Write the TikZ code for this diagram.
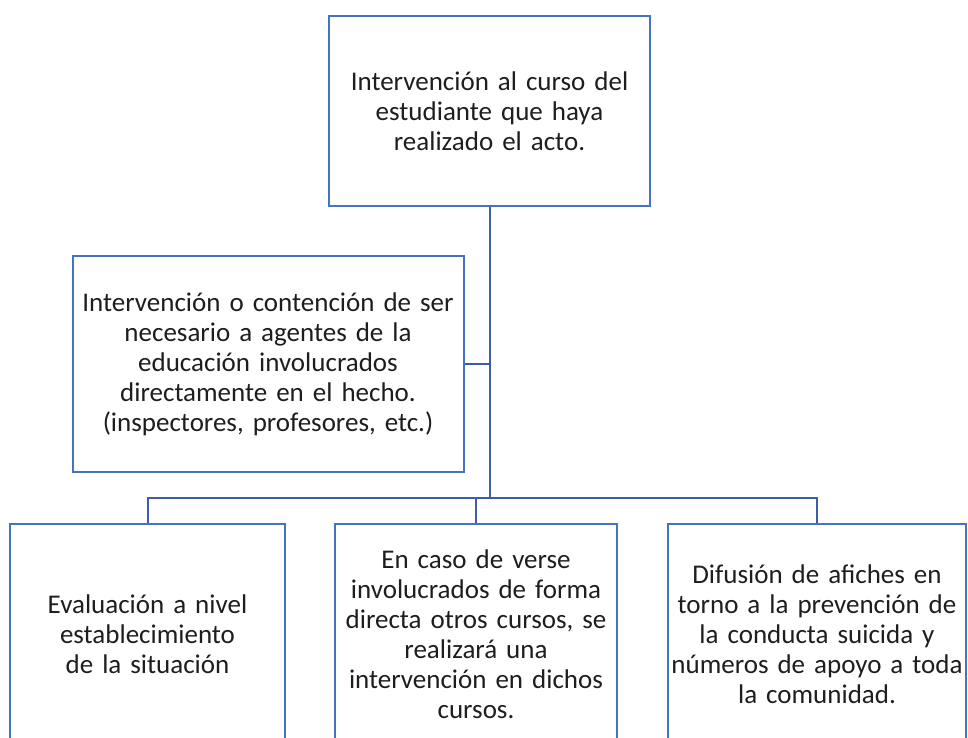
\documentclass[tikz,border=0pt]{standalone}
\usepackage{fontspec}
\setmainfont{Carlito}
\definecolor{boxblue}{HTML}{4472C4}
\definecolor{linkblue}{HTML}{3A5FA8}
\definecolor{txt}{HTML}{1E1E1E}
\begin{document}
\begin{tikzpicture}[x=1pt,y=-1pt,
  box/.style={draw=boxblue,line width=2pt,fill=white,rectangle,inner sep=0pt,
    align=center,text=txt,font=\fontsize{27}{30}\selectfont},
  conn/.style={draw=linkblue,line width=2pt}]
\useasboundingbox (0,0) rectangle (968,738);
\clip (0,0) rectangle (968,738);
\fill[white] (0,0) rectangle (968,738);
\node[box,minimum width=321pt,minimum height=190pt,text width=317pt] (t) at (489.5,111)
  {Intervención al curso del\\estudiante que haya\\realizado el acto.};
\node[box,minimum width=391pt,minimum height=216pt,text width=387pt] (m) at (268,364)
  {Intervención o contención de ser\\necesario a agentes de la\\educación involucrados\\directamente en el hecho.\\(inspectores, profesores, etc.)};
\node[box,minimum width=275pt,minimum height=220pt,text width=271pt] (b1) at (147.5,634)
  {Evaluación a nivel\\establecimiento\\de la situación};
\node[box,minimum width=282pt,minimum height=220pt,text width=278pt] (b2) at (476,634)
  {En caso de verse\\involucrados de forma\\directa otros cursos, se\\realizará una\\intervención en dichos\\cursos.};
\node[box,minimum width=298pt,minimum height=220pt,text width=294pt] (b3) at (817,634)
  {Difusión de afiches en\\torno a la prevención de\\la conducta suicida y\\números de apoyo a toda\\la comunidad.};
\coordinate (busy) at (0,498);
\draw[conn] (t.south) -- (t.south |- busy);
\draw[conn] (m.east) -- (m.east -| t.south);
\draw[conn] (b1.north) -- (b1.north |- busy) -- (b3.north |- busy) -- (b3.north);
\draw[conn] (b2.north) -- (b2.north |- busy);
\end{tikzpicture}
\end{document}
